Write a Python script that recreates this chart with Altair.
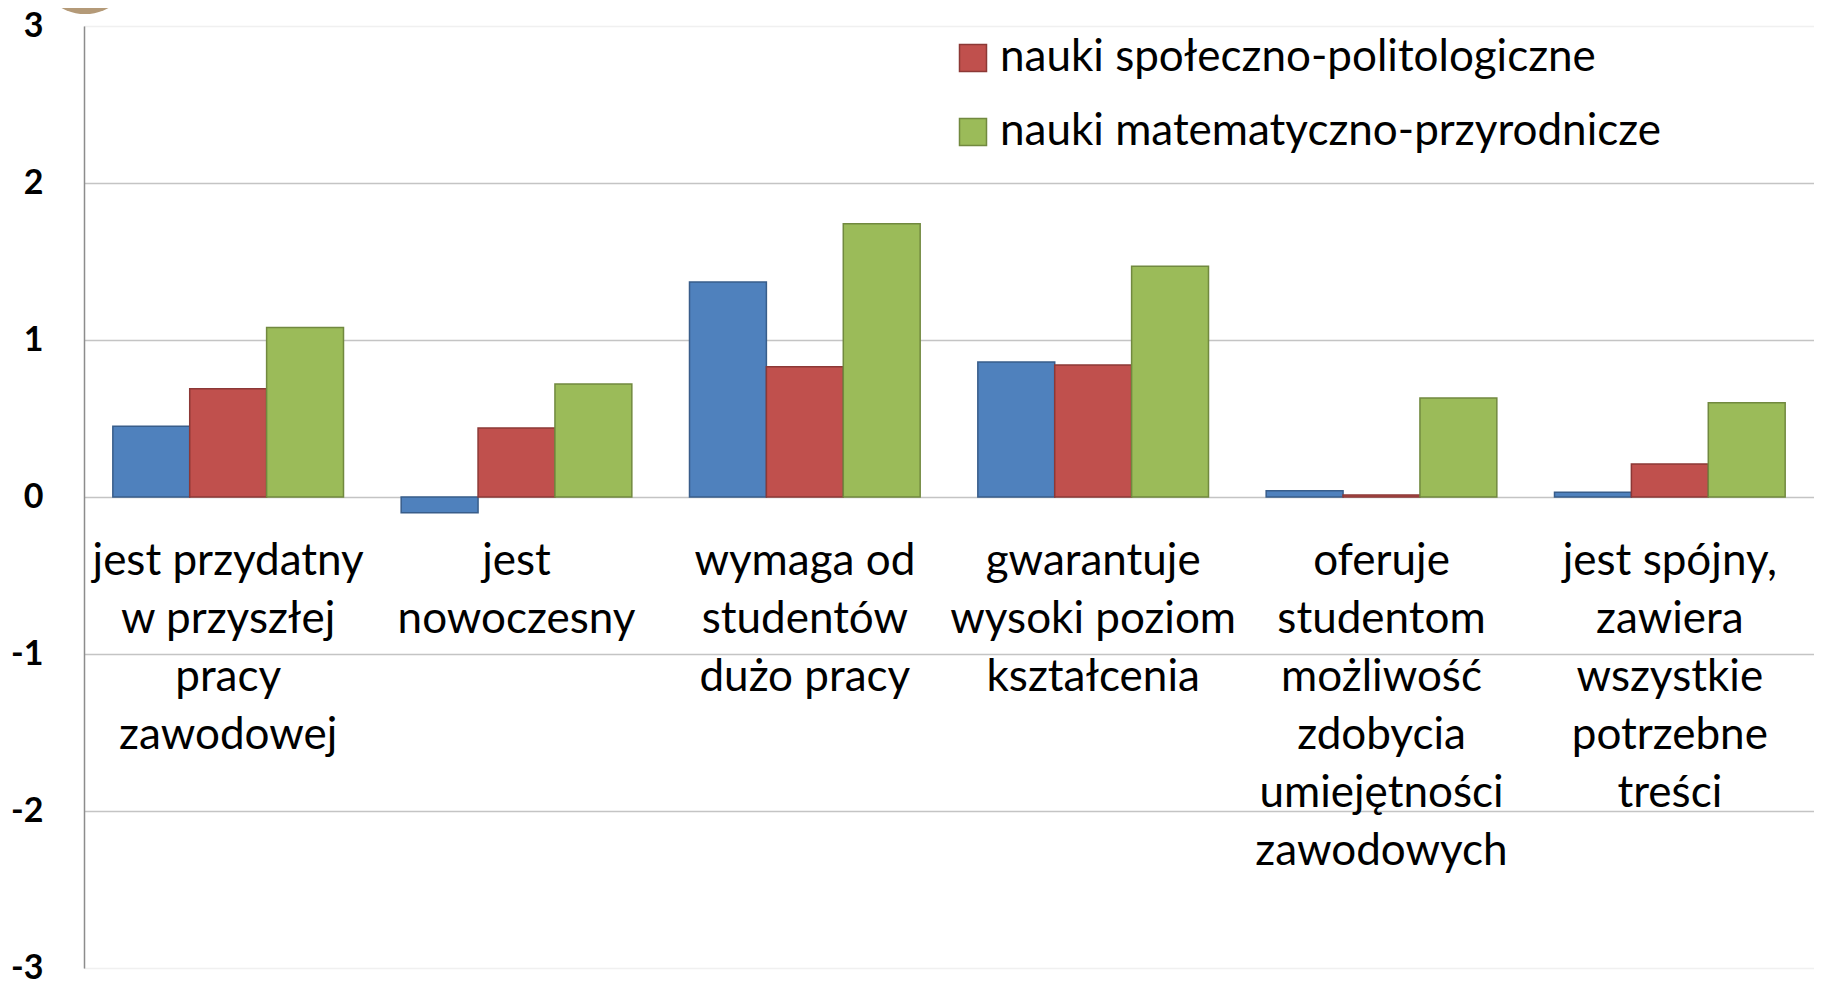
import altair as alt
import pandas as pd

categories = [
    "jest przydatny|w przyszłej|pracy|zawodowej",
    "jest|nowoczesny",
    "wymaga od|studentów|dużo pracy",
    "gwarantuje|wysoki poziom|kształcenia",
    "oferuje|studentom|możliwość|zdobycia|umiejętności|zawodowych",
    "jest spójny,|zawiera|wszystkie|potrzebne|treści",
]
series = [
    "nauki humanistyczno-teologiczne",
    "nauki społeczno-politologiczne",
    "nauki matematyczno-przyrodnicze",
]
vals_blue = [0.45, -0.10, 1.37, 0.86, 0.04, 0.03]
vals_red = [0.69, 0.44, 0.83, 0.84, 0.013, 0.21]
vals_green = [1.08, 0.72, 1.74, 1.47, 0.63, 0.60]
y_ticks = [-3, -2, -1, 0, 1, 2, 3]

fill_colors = ["#4F81BD", "#C0504D", "#9BBB59"]
stroke_colors = ["#385D8A", "#8C3836", "#71893F"]

rows = []
for s, vals in zip(series, [vals_blue, vals_red, vals_green]):
    for c, v in zip(categories, vals):
        rows.append({"category": c, "series": s, "value": v})
df = pd.DataFrame(rows)

W, H = 1730, 942

legend_kw = dict(
    orient="none", legendX=867, legendY=-64, title=None,
    symbolType="square", symbolSize=729, symbolStrokeWidth=1.5,
    labelFont="Lato", labelFontSize=44, labelColor="black",
    labelOffset=5, rowPadding=30, padding=0, labelLimit=0,
    direction="vertical",
)

bars = alt.Chart(df).mark_bar(strokeWidth=1.5).encode(
    x=alt.X(
        "category:N", sort=categories, title=None,
        scale=alt.Scale(paddingInner=0.2, paddingOuter=0.1),
        axis=alt.Axis(
            labelExpr="split(datum.label, '|')", labelAngle=0,
            domain=False, ticks=False, tickSize=0, grid=False,
            labelPadding=42, offset=-H / 2,
            labelFont="Lato", labelFontSize=44, labelLineHeight=58,
            labelColor="black", labelBaseline="top", labelLimit=0,
            labelOverlap=False,
        ),
    ),
    xOffset=alt.XOffset("series:N", sort=series,
                        scale=alt.Scale(paddingInner=0, paddingOuter=0)),
    y=alt.Y(
        "value:Q", title=None,
        scale=alt.Scale(domain=[-3, 3], nice=False),
        axis=alt.Axis(
            values=y_ticks, labelExpr="toString(datum.value)", ticks=False,
            labelFont="Lato", labelFontWeight="bold", labelFontSize=34,
            labelColor="black", labelPadding=41,
            domainColor="#8C8C8C", domainWidth=1.5,
            gridColor={"condition": {"test": "abs(datum.value) == 3", "value": "#F0F0F0"},
                       "value": "#C4C4C4"},
            gridWidth=1.5,
        ),
    ),
    color=alt.Color("series:N", sort=series,
                    scale=alt.Scale(domain=series, range=fill_colors),
                    legend=alt.Legend(**legend_kw)),
    stroke=alt.Stroke("series:N", sort=series,
                      scale=alt.Scale(domain=series, range=stroke_colors),
                      legend=alt.Legend(**legend_kw)),
)

logo = alt.Chart(pd.DataFrame({"logo": [0]})).mark_circle(
    size=9260, color="#B49A78", opacity=1, clip=False
).encode(x=alt.value(1), y=alt.value(-60))

chart = alt.layer(bars, logo).properties(
    width=W, height=H,
    autosize=alt.AutoSizeParams(type="none"),
    padding={"left": 76, "top": 18, "right": 0, "bottom": 11},
).configure_view(stroke=None).configure(background="white")

chart.save("out.html", embed_options={"renderer": "svg", "actions": False})
